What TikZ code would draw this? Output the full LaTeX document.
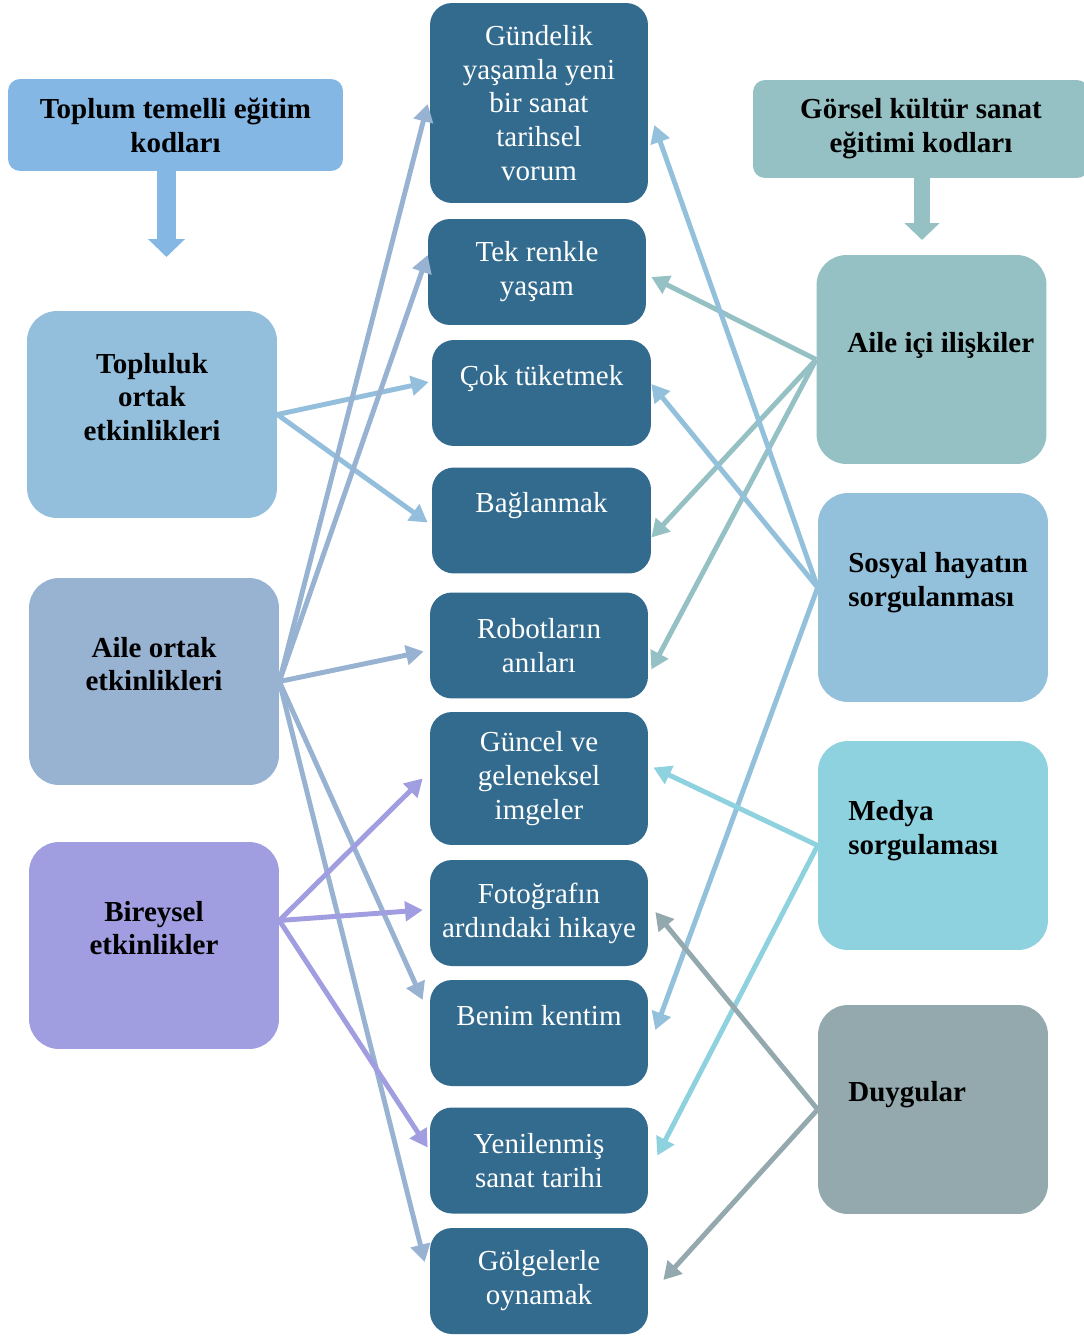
\documentclass[tikz,border=0pt]{standalone}
\usepackage{fontspec}
\setmainfont{Liberation Serif}
\usepackage{tikz}
\usetikzlibrary{arrows.meta, calc}
\usepackage{xcolor}

\definecolor{midblue}{HTML}{336B8E}
\definecolor{headleft}{HTML}{85B7E5}
\definecolor{headright}{HTML}{95C1C4}
\definecolor{topluluk}{HTML}{93BEDC}
\definecolor{aileortak}{HTML}{98B2D2}
\definecolor{bireysel}{HTML}{A09DE0}
\definecolor{aileici}{HTML}{95C1C4}
\definecolor{sosyal}{HTML}{93C0DA}
\definecolor{medya}{HTML}{8ED1DF}
\definecolor{duygular}{HTML}{93A9AE}

\begin{document}
\begin{tikzpicture}[
    x=0.02cm, y=-0.02cm,
    mid box/.style={rounded corners=0.44cm, fill=midblue, text=white, align=center, minimum width=4.36cm, minimum height=2.12cm, font=\fontsize{16.5}{19.3}\selectfont},
    raised/.style={text depth=20pt},
    side box/.style={rounded corners=0.6cm, align=center, minimum width=5cm, minimum height=4.14cm, text depth=20pt, font=\fontsize{16.5}{19.3}\selectfont\bfseries},
    right box/.style={rounded corners=0.6cm, minimum width=4.6cm, minimum height=4.18cm},
    right text/.style={anchor=west, align=left, inner sep=0pt, font=\fontsize{16.5}{19.3}\selectfont\bfseries},
    head box/.style={rounded corners=0.24cm, align=center, font=\fontsize{16.5}{19.3}\selectfont\bfseries},
    link/.style={line width=2.8pt, -{Triangle[length=10pt, width=11pt]}}
]
    \useasboundingbox (0,0) rectangle (1084,1336);
    \clip (0,0) rectangle (1084,1336);
    \fill[white] (0,0) rectangle (1084,1336);

    % Headers
    \node[head box, fill=headleft, minimum width=6.7cm, minimum height=1.84cm] (Toplum) at (175.5,125) {Toplum temelli eğitim\\kodları};
    \node[head box, fill=headright, minimum width=6.72cm, minimum height=1.96cm] (Gorsel) at (921,129) {Görsel kültür sanat\\eğitimi kodları};
    \coordinate (ToplumEnd) at (166.5,257);
    \coordinate (GorselEnd) at (922,240);

    % Left column
    \node[side box, fill=topluluk] (Topluluk) at (152,414.5) {Topluluk\\ortak\\etkinlikleri};
    \node[side box, fill=aileortak] (AileOrtak) at (154,681.5) {Aile ortak\\etkinlikleri};
    \node[side box, fill=bireysel] (Bireysel) at (154,945.5) {Bireysel\\etkinlikler};

    % Middle column
    \node[mid box, minimum height=4cm] (Gundelik) at (539,103) {Gündelik\\yaşamla yeni\\bir sanat\\tarihsel\\vorum};
    \node[mid box] (TekRenk) at (537,272) {Tek renkle\\yaşam};
    \node[mid box, raised, minimum width=4.38cm] (CokTuketmek) at (541.5,393) {Çok tüketmek};
    \node[mid box, raised, minimum width=4.38cm] (Baglanmak) at (541.5,520.5) {Bağlanmak};
    \node[mid box] (Robotlar) at (539,645.5) {Robotların\\anıları};
    \node[mid box, minimum height=2.66cm] (Guncel) at (539,778.5) {Güncel ve\\geleneksel\\imgeler};
    \node[mid box] (Fotograf) at (539,913) {Fotoğrafın\\ardındaki hikaye};
    \node[mid box, raised] (Kentim) at (539,1033) {Benim kentim};
    \node[mid box] (SanatTarihi) at (539,1160.5) {Yenilenmiş\\sanat tarihi};
    \node[mid box] (Golgeler) at (539,1281) {Gölgelerle\\oynamak};

    % Right column
    \node[right box, fill=aileici] (AileIci) at (931.5,359.5) {};
    \node[right box, fill=sosyal] (Sosyal) at (933,597.5) {};
    \node[right box, fill=medya] (Medya) at (933,845.5) {};
    \node[right box, fill=duygular] (Duygular) at (933,1109.5) {};
    \node[right text] (AileIciText) at (847,345) {Aile içi ilişkiler};
    \node[right text] (SosyalText) at (848,583) {Sosyal hayatın\\sorgulanması};
    \node[right text] (MedyaText) at (848,831) {Medya\\sorgulaması};
    \node[right text] (DuygularText) at (848,1095) {Duygular};

    % Header arrows
    \draw[color=headleft, line width=10.8pt, -{Triangle[length=10.2pt, width=20.4pt]}] (Toplum.south -| ToplumEnd) -- (ToplumEnd);
    \draw[color=headright, line width=9pt, -{Triangle[length=9.6pt, width=19.3pt]}] (Gorsel.south -| GorselEnd) -- (GorselEnd);

    % Edges from the left
    \draw[link, color=topluluk] (Topluluk.east) -- ($(CokTuketmek.west)+(-3,-11)$);
    \draw[link, color=topluluk] (Topluluk.east) -- ($(Baglanmak.west)+(-4,2)$);
    \draw[link, color=aileortak] (AileOrtak.east) -- ($(Gundelik.west)+(-2,1)$);
    \draw[link, color=aileortak] (AileOrtak.east) -- ($(TekRenk.west)+(0,-17)$);
    \draw[link, color=aileortak] (AileOrtak.east) -- ($(Robotlar.west)+(-6,6)$);
    \draw[link, color=aileortak] (AileOrtak.east) -- ($(Kentim.west)+(-7,-33)$);
    \draw[link, color=aileortak] (AileOrtak.east) -- ($(Golgeler.west)+(-5,-19)$);
    \draw[link, color=bireysel] ($(Bireysel.east)+(0,-25)$) -- ($(Guncel.west)+(-7,0)$);
    \draw[link, color=bireysel] ($(Bireysel.east)+(0,-25)$) -- ($(Fotograf.west)+(-7,-3)$);
    \draw[link, color=bireysel] ($(Bireysel.east)+(0,-25)$) -- ($(SanatTarihi.west)+(-2,-13)$);

    % Edges from the right
    \draw[link, color=aileici] (AileIci.west) -- ($(TekRenk.east)+(5,5)$);
    \draw[link, color=aileici] (AileIci.west) -- ($(Baglanmak.east)+(0,17)$);
    \draw[link, color=aileici] (AileIci.west) -- ($(Robotlar.east)+(3,24)$);
    \draw[link, color=sosyal] ($(Sosyal.west)+(0,-10)$) -- ($(Gundelik.east)+(6,22)$);
    \draw[link, color=sosyal] ($(Sosyal.west)+(0,-10)$) -- ($(CokTuketmek.east)+(0,-9)$);
    \draw[link, color=sosyal] ($(Sosyal.west)+(0,-10)$) -- ($(Kentim.east)+(7,-3)$);
    \draw[link, color=medya] (Medya.west) -- ($(Guncel.east)+(5,-11)$);
    \draw[link, color=medya] (Medya.west) -- ($(SanatTarihi.east)+(9,-5)$);
    \draw[link, color=duygular] (Duygular.west) -- ($(Fotograf.east)+(7,-1)$);
    \draw[link, color=duygular] (Duygular.west) -- ($(Golgeler.east)+(15,-1)$);
\end{tikzpicture}
\end{document}
